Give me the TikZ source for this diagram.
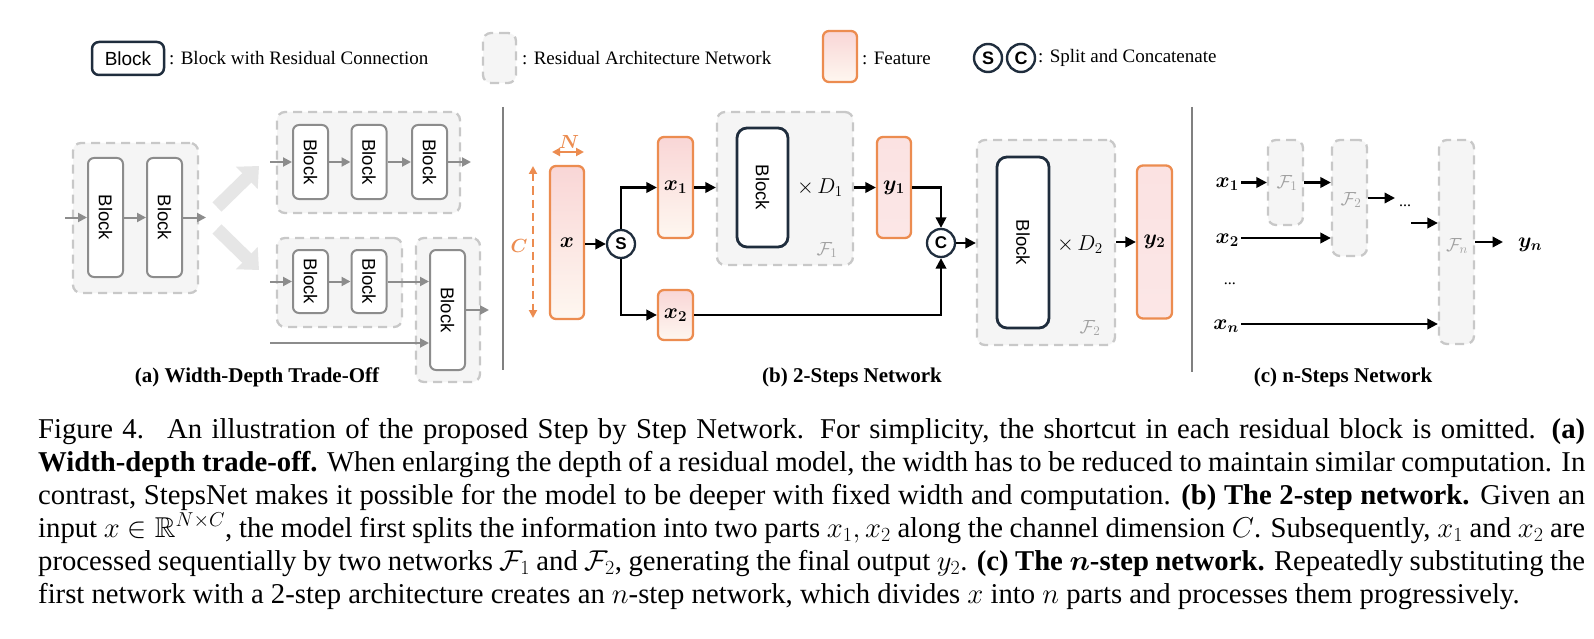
\RequirePackage{fix-cm}
\documentclass[tikz,border=0pt]{standalone}
\usepackage{amssymb}
\usepackage{bm}
\usepackage{fontspec}
\setmainfont{Liberation Serif}
\setsansfont{Liberation Sans}
\usetikzlibrary{arrows.meta,calc}
\definecolor{navy}{RGB}{31,45,61}
\definecolor{orng}{RGB}{236,140,80}
\definecolor{featpink}{RGB}{249,214,214}
\definecolor{featcream}{RGB}{254,247,240}
\definecolor{ypink}{RGB}{251,226,226}
\definecolor{blkgray}{RGB}{140,140,140}
\definecolor{dashgray}{RGB}{200,200,200}
\definecolor{cfill}{RGB}{245,245,245}
\definecolor{flabel}{RGB}{160,160,160}
\definecolor{bigarr}{RGB}{230,230,230}
\definecolor{divgray}{RGB}{128,128,128}
\newcommand\blkfont{\sffamily\fontsize{18.5}{20}\selectfont}
\newcommand\capfont{\fontsize{28.7}{33}\selectfont}
\begin{document}
\begin{tikzpicture}[x=1pt,y=-1pt,
  grayblock/.style={draw=blkgray, line width=2pt, rounded corners=6pt, fill=white, inner sep=0pt, font=\blkfont},
  navyblock/.style={draw=navy, line width=2.8pt, rounded corners=10pt, fill=white, inner sep=0pt, font=\blkfont},
  container/.style={draw=dashgray, dash pattern=on 9pt off 6pt, line width=2.3pt, fill=cfill, rounded corners=8pt, inner sep=0pt},
  feat/.style={draw=orng, line width=2.3pt, rounded corners=6pt, top color=featpink, bottom color=featcream, inner sep=0pt, font=\fontsize{21.5}{24}\selectfont},
  yfeat/.style={feat, top color=ypink, bottom color=ypink!85!white},
  circ/.style={circle, draw=navy, line width=2.3pt, fill=white, minimum size=28pt, inner sep=0pt, font=\sffamily\bfseries\fontsize{17}{18}\selectfont},
  garrow/.style={draw=blkgray, line width=2pt, -{Triangle[length=9pt,width=9pt]}},
  barrow/.style={draw=black, line width=2.2pt, -{Triangle[length=10.5pt,width=10.5pt]}},
  flab/.style={text=flabel, inner sep=0pt, font=\fontsize{19}{20}\selectfont},
  mlab/.style={inner sep=0pt, font=\fontsize{21.5}{24}\selectfont},
  subcap/.style={font=\bfseries\fontsize{21}{24}\selectfont, inner sep=0pt},
  legtext/.style={anchor=west, font=\fontsize{19}{22}\selectfont, inner sep=0pt},
  divider/.style={draw=divgray, line width=2pt}
]
\useasboundingbox (0,0) rectangle (1594,639);
\fill[white] (0,0) rectangle (1594,639);

% ---------------- Legend ----------------
\node[navyblock, rounded corners=7pt, line width=2.5pt, minimum width=72pt, minimum height=33pt, font=\sffamily\fontsize{19}{20}\selectfont] (lgblock) at (128,58.5) {Block};
\node[legtext] (lgblocktxt) at (169,58) {: Block with Residual Connection};
\node[container, minimum width=33pt, minimum height=50pt] (lgcont) at (499.5,58) {};
\node[legtext] (lgconttxt) at (522,58) {: Residual Architecture Network};
\node[feat, minimum width=34pt, minimum height=51pt] (lgfeat) at (840,56.5) {};
\node[legtext] (lgfeattxt) at (862,58) {: Feature};
\node[circ, minimum size=28pt, line width=2.4pt, font=\sffamily\bfseries\fontsize{18}{19}\selectfont] (lgS) at (988,58) {S};
\node[circ, minimum size=28pt, line width=2.4pt, font=\sffamily\bfseries\fontsize{18}{19}\selectfont] (lgC) at (1021,58) {C};
\node[legtext] (lgsctxt) at (1038,58) {: Split and Concatenate};

% ---------------- (a) ----------------
\node[container, minimum width=125pt, minimum height=150pt] (A0) at (135.5,218) {};
\node[grayblock, minimum width=35pt, minimum height=119pt] (a1) at (105.5,217.5) {\rotatebox{-90}{Block}};
\node[grayblock, minimum width=35pt, minimum height=119pt] (a2) at (164.5,217.5) {\rotatebox{-90}{Block}};
\coordinate (ain) at (65,217.5);
\coordinate (aout) at (206,217.5);
\draw[garrow] (ain) -- (a1.west);
\draw[garrow] (a1.east) -- (a2.west);
\draw[garrow] (a2.east) -- (aout);

% big grey arrows
\coordinate (bgs1) at (217,207);
\coordinate (bge1) at (259,166);
\coordinate (bgs2) at (217,229);
\coordinate (bge2) at (259,270);
\draw[bigarr, line width=13pt, -{Triangle[length=17pt,width=30pt]}] (bgs1) -- (bge1);
\draw[bigarr, line width=13pt, -{Triangle[length=17pt,width=30pt]}] (bgs2) -- (bge2);

% top: three blocks
\node[container, minimum width=183pt, minimum height=101pt] (AT) at (368.5,162.5) {};
\node[grayblock, minimum width=35pt, minimum height=74pt] (t1) at (310.5,162) {\rotatebox{-90}{Block}};
\node[grayblock, minimum width=35pt, minimum height=74pt] (t2) at (369,162) {\rotatebox{-90}{Block}};
\node[grayblock, minimum width=35pt, minimum height=74pt] (t3) at (429.5,162) {\rotatebox{-90}{Block}};
\coordinate (tin) at (270,162);
\coordinate (tout) at (471,162);
\draw[garrow] (tin) -- (t1.west);
\draw[garrow] (t1.east) -- (t2.west);
\draw[garrow] (t2.east) -- (t3.west);
\draw[garrow] (t3.east) -- (tout);

% bottom: two blocks + one wide block
\node[container, minimum width=125pt, minimum height=89pt] (AB) at (339.5,282.5) {};
\node[container, minimum width=64pt, minimum height=144pt] (AR) at (448,310) {};
\node[grayblock, minimum width=35pt, minimum height=63pt] (u1) at (310.5,281.5) {\rotatebox{-90}{Block}};
\node[grayblock, minimum width=35pt, minimum height=63pt] (u2) at (369,281.5) {\rotatebox{-90}{Block}};
\node[grayblock, minimum width=35pt, minimum height=120pt] (u3) at (447.5,310) {\rotatebox{-90}{Block}};
\coordinate (uin) at (270,281.5);
\coordinate (uin2) at (270,343);
\coordinate (uout) at (489,310);
\draw[garrow] (uin) -- (u1.west);
\draw[garrow] (u1.east) -- (u2.west);
\draw[garrow] (u2.east) -- (u2.east -| u3.west);
\draw[garrow] (uin2) -- (uin2 -| u3.west);
\draw[garrow] (u3.east) -- (uout);

\node[subcap] (capa) at (257,377) {(a) Width-Depth Trade-Off};

% dividers
\coordinate (d1t) at (503,107);
\coordinate (d1b) at (503,370);
\draw[divider] (d1t) -- (d1b);
\coordinate (d2t) at (1192,107);
\coordinate (d2b) at (1192,372);
\draw[divider] (d2t) -- (d2b);

% ---------------- (b) ----------------
\coordinate (Nl) at (552,152);
\coordinate (Nr) at (584,152);
\draw[orng, line width=2pt, {Triangle[length=8pt,width=8pt]}-{Triangle[length=8pt,width=8pt]}] (Nl) -- (Nr);
\node[mlab, text=orng, font=\fontsize{19}{20}\selectfont] (Nlab) at (569,142) {$\bm{N}$};
\coordinate (Ct) at (533,166);
\coordinate (Cb) at (533,318);
\draw[orng, line width=2pt, dash pattern=on 8pt off 5pt, {Triangle[length=8pt,width=8pt]}-{Triangle[length=8pt,width=8pt]}] (Ct) -- (Cb);
\node[mlab, text=orng, font=\fontsize{19}{20}\selectfont] (Clab) at (519,246) {$\bm{C}$};

\node[feat, minimum width=34pt, minimum height=153pt] (x) at (567,242.5) {$\bm{x}$};
\node[circ] (S) at (621,244) {S};
\node[feat, minimum width=35pt, minimum height=101pt] (x1) at (675.5,187.5) {$\bm{x_1}$};
\node[feat, minimum width=35pt, minimum height=50pt] (x2) at (675.5,315) {$\bm{x_2}$};

\node[container, minimum width=136pt, minimum height=153pt] (F1) at (785,188.5) {};
\node[navyblock, minimum width=51pt, minimum height=119pt] (B1) at (762.5,187.5) {\rotatebox{-90}{Block}};
\node[mlab] (D1) at (820,188) {$\times\, D_1$};
\node[flab] (F1lab) at (827,250) {$\mathcal{F}_1$};
\node[yfeat, minimum width=34pt, minimum height=101pt] (y1) at (894,187.5) {$\bm{y_1}$};

\node[circ] (C) at (941,243) {C};

\node[container, minimum width=138pt, minimum height=205pt] (F2) at (1046,242.5) {};
\node[navyblock, minimum width=52pt, minimum height=171pt] (B2) at (1023,242.5) {\rotatebox{-90}{Block}};
\node[mlab] (D2) at (1080,245) {$\times\, D_2$};
\node[flab] (F2lab) at (1090,328) {$\mathcal{F}_2$};
\node[yfeat, minimum width=35pt, minimum height=153pt] (y2) at (1154.5,242) {$\bm{y_2}$};

\draw[barrow] (x.east |- S.west) -- (S.west);
\draw[barrow] (S.north) |- (x1.west);
\draw[barrow] (S.south) |- (x2.west);
\draw[barrow] (x1.east) -- (x1.east -| F1.west);
\draw[barrow] (F1.east |- y1.west) -- (y1.west);
\draw[barrow] (y1.east) -| (C.north);
\draw[barrow] (x2.east) -| (C.south);
\draw[barrow] (C.east) -- (C.east -| F2.west);
\draw[barrow] (F2.east |- y2.west) -- (y2.west);

\node[subcap] (capb) at (852,377) {(b) 2-Steps Network};

% ---------------- (c) ----------------
\node[container, minimum width=35pt, minimum height=85pt] (G1) at (1285.5,182.5) {};
\node[container, minimum width=35pt, minimum height=116pt] (G2) at (1349.5,198) {};
\node[container, minimum width=35pt, minimum height=204pt] (Gn) at (1456.5,242) {};
\node[flab] (G1lab) at (1287,183) {$\mathcal{F}_1$};
\node[flab] (G2lab) at (1351,200) {$\mathcal{F}_2$};
\node[flab] (Gnlab) at (1457,246) {$\mathcal{F}_n$};

\node[mlab, anchor=east] (cx1) at (1239,184) {$\bm{x_1}$};
\node[mlab, anchor=east] (cx2) at (1239,240) {$\bm{x_2}$};
\node[mlab, anchor=east, font=\fontsize{16}{16}\selectfont] (cdots) at (1236,284) {...};
\node[mlab, anchor=east] (cxn) at (1239,326) {$\bm{x_n}$};
\node[mlab, anchor=west] (cyn) at (1518,245) {$\bm{y_n}$};

\coordinate (r1) at (1241,182.5);
\coordinate (r2) at (1241,238);
\coordinate (rn) at (1241,324);
\coordinate (g2out) at (1395,198);
\node[mlab, font=\fontsize{16}{16}\selectfont] (mdots) at (1405,206) {...};
\coordinate (gnin) at (1411,223);
\coordinate (ynend) at (1503,242);

\draw[barrow] (r1) -- (r1 -| G1.west);
\draw[barrow] (G1.east) -- (G1.east -| G2.west);
\draw[barrow] (r2) -- (r2 -| G2.west);
\draw[barrow] (G2.east) -- (g2out);
\draw[barrow] (gnin) -- (gnin -| Gn.west);
\draw[barrow] (rn) -- (rn -| Gn.west);
\draw[barrow] (Gn.east) -- (ynend);

\node[subcap] (capc) at (1343,377) {(c) n-Steps Network};

% ---------------- Caption ----------------
\node[anchor=north west, inner sep=0pt, text width=1547pt, align=justify, font=\capfont] (caption) at (38,418) {%
Figure 4.\hspace{0.25em} An illustration of the proposed Step by Step Network.  For simplicity, the shortcut in each residual block is omitted.  \textbf{(a)}\linebreak
\textbf{Width-depth trade-off.} When enlarging the depth of a residual model, the width has to be reduced to maintain similar computation. In\linebreak
contrast, StepsNet makes it possible for the model to be deeper with fixed width and computation.  \textbf{(b) The 2-step network.} Given an\linebreak
input $x \in \mathbb{R}^{N\times C}$, the model first splits the information into two parts $x_1, x_2$ along the channel dimension $C$. Subsequently, $x_1$ and $x_2$ are\linebreak
processed sequentially by two networks $\mathcal{F}_1$ and $\mathcal{F}_2$, generating the final output $y_2$. \textbf{(c) The $\bm{n}$-step network.} Repeatedly substituting the\linebreak
first network with a 2-step architecture creates an $n$-step network, which divides $x$ into $n$ parts and processes them progressively.};
\end{tikzpicture}
\end{document}
